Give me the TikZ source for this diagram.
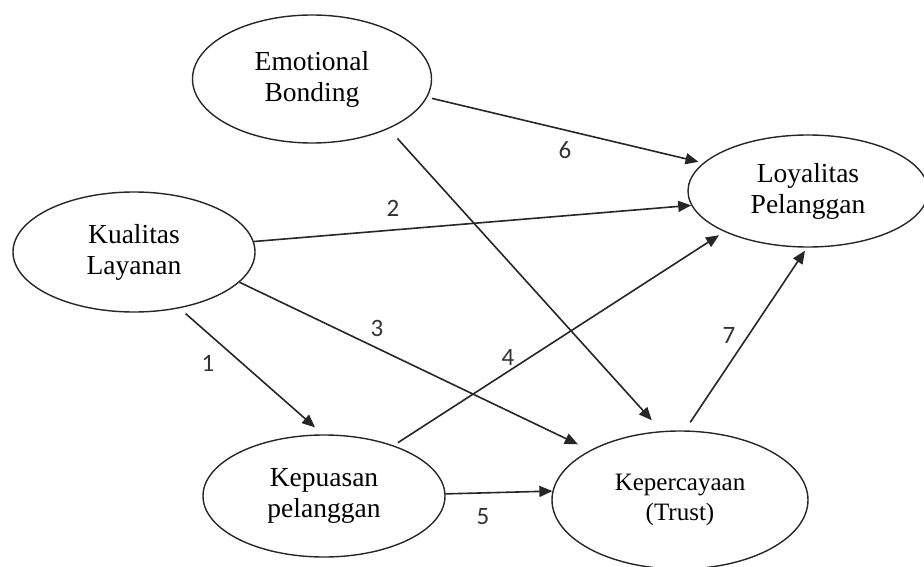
\documentclass[tikz,border=0pt]{standalone}
\usepackage{fontspec}
\setmainfont{Liberation Serif}
\newfontfamily\numfont{Carlito}
\usetikzlibrary{shapes.geometric,arrows.meta}
\begin{document}
\begin{tikzpicture}[x=1pt,y=-1pt,
  var/.style={ellipse,draw=black!85,line width=1.4pt,inner sep=0pt,align=center,font=\fontsize{27.5}{31}\selectfont},
  link/.style={draw=black!85,line width=1.6pt,-{Triangle[length=13pt,width=11pt]}},
  num/.style={font=\numfont\fontsize{25}{25}\selectfont,text=black!80}]
\clip (0,0) rectangle (924,567);
\node[var,minimum width=239pt,minimum height=128pt] (E) at (312,79) {Emotional\\Bonding};
\node[var,minimum width=240pt,minimum height=112pt] (L) at (808,191) {Loyalitas\\Pelanggan};
\node[var,minimum width=242pt,minimum height=120pt] (K) at (134,252) {Kualitas\\Layanan};
\node[var,minimum width=242pt,minimum height=122pt] (P) at (324,496) {Kepuasan\\pelanggan};
\node[var,minimum width=256pt,minimum height=138pt,font=\fontsize{25}{30}\selectfont] (T) at (680,500) {Kepercayaan\\(Trust)};
% connectors
\draw[link,shorten <=8pt,shorten >=10.5pt] (K.-51.1) -- (P.91);
\draw[link] (K.5.7) -- (L.187.5);
\draw[link,shorten >=13.5pt] (K.-16.3) -- (T.151.3);
\draw[link,shorten <=5pt,shorten >=6.3pt] (P.36.2) -- (L.206.1);
\draw[link] (P.1) -- (T.176.4);
\draw[link,shorten <=5pt,shorten >=4.8pt] (E.-9.25) -- (L.165.7);
\draw[link,shorten <=9.6pt,shorten >=3.6pt] (T.86) -- (L.-91);
\draw[link,shorten <=13pt,shorten >=14.5pt] (E.-33) -- (T.105.8);
% labels
\node[num] (n1) at (208,363) {1};
\node[num] (n2) at (393,208) {2};
\node[num] (n3) at (377,328) {3};
\node[num] (n4) at (508,357) {4};
\node[num] (n5) at (483,517) {5};
\node[num] (n6) at (565,150) {6};
\node[num] (n7) at (729,335) {7};
\end{tikzpicture}
\end{document}
